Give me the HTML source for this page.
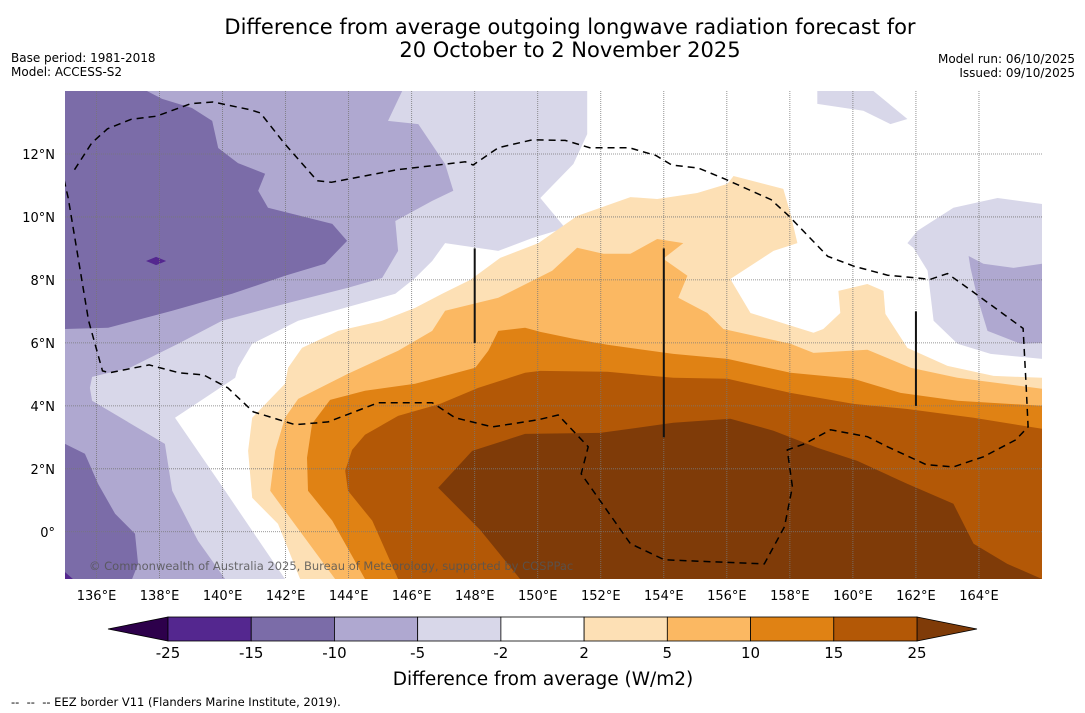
<!DOCTYPE html>
<html><head><meta charset="utf-8">
<style>
body{margin:0;background:#fff;width:1085px;height:713px;overflow:hidden;font-family:"Liberation Sans","DejaVu Sans",sans-serif}
svg{position:absolute;left:0;top:0}
</style></head>
<body>
<svg id="chart" width="1085" height="713" viewBox="0 0 1085 713">
<text x="570" y="34" text-anchor="middle" font-size="21" font-family="DejaVu Sans, sans-serif">Difference from average outgoing longwave radiation forecast for</text>
<text x="570" y="57" text-anchor="middle" font-size="21" font-family="DejaVu Sans, sans-serif">20 October to 2 November 2025</text>
<text x="11" y="62" font-size="12" font-family="DejaVu Sans, sans-serif">Base period: 1981-2018</text>
<text x="11" y="76" font-size="12" font-family="DejaVu Sans, sans-serif">Model: ACCESS-S2</text>
<text x="1075" y="63" text-anchor="end" font-size="12" font-family="DejaVu Sans, sans-serif">Model run: 06/10/2025</text>
<text x="1075" y="77" text-anchor="end" font-size="12" font-family="DejaVu Sans, sans-serif">Issued: 09/10/2025</text>
<defs><clipPath id="mapclip"><rect x="65" y="91" width="977" height="488"/></clipPath></defs>
<g id="map" clip-path="url(#mapclip)"></g>
<g id="axes"></g>
<g id="cbar"></g>
<text x="543" y="685" text-anchor="middle" font-size="18.5" font-family="DejaVu Sans, sans-serif">Difference from average (W/m2)</text>
<text x="11" y="706" font-size="11.5" font-family="DejaVu Sans, sans-serif" xml:space="preserve" style="white-space:pre">--  --  -- EEZ border V11 (Flanders Marine Institute, 2019).</text>
</svg>
<script>
// ---- data ----
const levels=[-25,-15,-10,-5,-2,2,5,10,15,25];
const levelColors=["#54278f","#7b6ca8","#afa8d0","#d8d7e9","#ffffff","#fde0b5","#fbb862","#e08214","#b35806"];
const underColor="#2d004b", overColor="#7f3b08";
const lonTicks=[136,138,140,142,144,146,148,150,152,154,156,158,160,162,164];
const latTicks=[0,2,4,6,8,10,12];
const regionLight1=[[135,14],[151.57,14],[151.57,12.63],[151.13,11.68],[150.08,10.6],[150.87,9.65],[149.83,9.33],[148.75,8.92],[147.06,9.17],[146.65,8.6],[146.11,8.06],[145.48,7.56],[142.4,6.7],[140.94,5.97],[140.49,5.21],[140.4,4.89],[138.49,3.62],[140.08,1.3],[140.94,0.03],[141.98,-1.5],[135,-1.5]];
const regionLight2=[[161.73,9.17],[162.05,9.56],[163.19,10.29],[164.59,10.6],[166,10.41],[166,5.49],[164.37,5.65],[163.32,5.97],[162.56,6.7],[162.37,8.29],[161.92,9.02]];
const regionLight3=[[158.87,14],[160.65,14],[161.73,13.11],[161.19,12.95],[160.33,13.37],[158.87,13.59]];
const regionMid1=[[135,14],[145.7,14],[145.25,13.05],[146.21,12.95],[147.06,11.68],[147.32,10.83],[146.65,10.51],[145.48,9.87],[145.57,8.92],[145.06,8.06],[143.98,7.75],[141.98,7.24],[139.98,6.7],[138.59,5.97],[137.06,5.21],[135.86,4.92],[135.79,4.57],[135.86,4.16],[138.17,2.79],[138.4,1.3],[139.22,-0.29],[140.08,-1.5],[135,-1.5]];
const regionMid2=[[163.67,8.76],[164.14,8.51],[165.1,8.38],[166,8.51],[166,6],[165.32,5.97],[164.27,6.38],[163.95,7.43],[163.73,8.38]];
const regionDark1=[[135,14],[137.6,14],[138.08,13.75],[139.03,13.46],[139.67,13.05],[139.86,12.19],[140.49,11.71],[141.35,11.37],[141.13,10.83],[141.44,10.29],[143.48,9.78],[143.95,9.24],[143.25,8.51],[141.98,8.13],[140.3,7.56],[138.4,7.02],[136.37,6.48],[135,6.44]];
const regionDark2=[[135,2.79],[135.63,2.48],[136.05,1.52],[136.59,0.57],[137.22,-0.06],[137.32,-1.02],[137.13,-1.5],[135,-1.5]];
const regionDeep1=[[137.57,8.6],[137.89,8.73],[138.21,8.6],[137.89,8.47]];
const regionDeep2=[[135,-1.5],[135.25,-1.5],[135,-1.28]];
const regionO1=[[142.46,-1.5],[141.76,0.25],[140.94,1.08],[140.81,2.57],[140.94,3.62],[141.98,4.7],[142.08,5.21],[142.52,5.84],[143.67,6.38],[145.06,6.7],[146.11,7.11],[146.97,7.56],[147.86,8],[148.81,8.7],[150.02,9.17],[151.25,10.03],[152.94,10.63],[153.79,10.57],[155.06,10.76],[156.02,11.05],[156.21,11.3],[157.79,10.89],[158.02,10.1],[158.24,9.17],[157.48,8.92],[156.11,8.03],[156.75,6.95],[158.75,6.32],[159.06,6.44],[159.6,6.95],[159.54,7.65],[160.46,7.87],[160.97,7.65],[161.03,6.92],[161.73,5.84],[163,5.27],[164.46,4.95],[166,4.89],[166,-1.5]];
const regionO2=[[143.57,-1.5],[142.21,0.35],[141.51,1.3],[141.67,2.57],[141.98,3.62],[142.4,4.22],[143.98,5.02],[145.57,5.75],[146.65,6.38],[147.06,7.02],[148.75,7.43],[150.46,8.29],[151.25,9.02],[152.08,8.83],[152.94,8.83],[153.79,9.3],[154.62,9.17],[153.98,8.67],[154.75,8.13],[154.46,7.43],[155.38,6.95],[155.89,6.44],[158.02,5.97],[158.75,5.68],[160.46,5.78],[161.83,5.21],[163.32,4.89],[166,4.54],[166,-1.5]];
const regionO3=[[144.52,-1.5],[143.48,0.35],[142.71,1.3],[142.68,2.35],[142.84,3.43],[143.41,4.19],[144.52,4.48],[146.11,4.7],[148.02,5.21],[148.43,5.75],[148.75,6.38],[149.6,6.48],[150.08,6.35],[151.13,6.13],[152.21,5.94],[154.3,5.65],[156.02,5.49],[158.02,5.05],[160.02,4.86],[161.51,4.41],[163.32,4.16],[166,4],[166,-1.5]];
const regionO4=[[145.57,-1.5],[144.75,0.35],[143.98,1.3],[143.89,1.94],[144.11,2.6],[144.52,3.08],[145.57,3.68],[146.9,4.06],[148.11,4.57],[149.6,5.05],[150.08,5.11],[152.21,5.08],[154.3,4.89],[156.02,4.86],[158.02,4.41],[160.02,4.06],[161.73,3.9],[163.83,3.62],[166,3.27],[166,-1.5]];
const regionO5=[[149.44,-1.5],[148.17,0.06],[146.84,1.4],[147.92,2.57],[149.6,3.11],[151.98,3.14],[154.3,3.46],[156.11,3.59],[157.48,3.21],[158.87,2.67],[160.14,2.25],[161.73,1.52],[163.19,0.89],[163.83,-0.38],[164.9,-1.02],[166,-1.5]];
const regions=[[3,regionLight1],[3,regionLight2],[3,regionLight3],[2,regionMid1],[2,regionMid2],[1,regionDark1],[1,regionDark2],[0,regionDeep1],[0,regionDeep2],[5,regionO1],[6,regionO2],[7,regionO3],[8,regionO4],[9,regionO5]];
const eez=[[135.3,11.5],[135.85,12.35],[136.35,12.8],[137.1,13.1],[137.9,13.2],[139,13.6],[139.7,13.65],[140.9,13.4],[141.2,13.3],[141.95,12.35],[143,11.15],[143.45,11.1],[145.55,11.5],[147.7,11.75],[147.95,11.65],[148.75,12.2],[149.83,12.45],[150.87,12.43],[151.65,12.2],[152.9,12.2],[153.75,11.95],[154.25,11.65],[155.1,11.55],[155.95,11.2],[157.4,10.55],[157.95,10.05],[159.2,8.75],[160.05,8.43],[161.1,8.15],[162.46,8.02],[163,8.2],[163.7,7.7],[165.4,6.46],[165.5,4.6],[165.56,3.33],[165.17,2.92],[164.14,2.38],[163.19,2.06],[162.33,2.13],[161.1,2.7],[160.46,3.02],[159.29,3.24],[158.46,2.79],[157.92,2.6],[158.08,1.43],[157.83,0.16],[157.19,-1.02],[154.02,-0.89],[152.94,-0.38],[151.38,1.84],[151.6,2.7],[150.65,3.71],[150.02,3.56],[148.56,3.33],[147.38,3.62],[146.65,4.1],[144.94,4.1],[143.35,3.49],[142.3,3.4],[140.97,3.81],[140.17,4.57],[139.4,4.98],[138.62,5.05],[137.67,5.3],[136.41,5.05],[136.19,5.11],[135.75,6.7],[135.1,10.6],[134.9,11.5]];
const blackLines=[[148,9],[148,6],[154,9],[154,3],[162,7],[162,4]];

const X0=65,X1=1042,Y0=91,Y1=579,LON0=135,LON1=166,LAT0=-1.5,LAT1=14;
const xs=lon=>X0+(lon-LON0)/(LON1-LON0)*(X1-X0);
const ys=lat=>Y1-(lat-LAT0)/(LAT1-LAT0)*(Y1-Y0);
const NS="http://www.w3.org/2000/svg";
function mk(tag,attrs,parent){const e=document.createElementNS(NS,tag);for(const k in attrs)e.setAttribute(k,attrs[k]);parent.appendChild(e);return e;}
const map=document.getElementById('map'), axes=document.getElementById('axes'), cbar=document.getElementById('cbar');
const allColors=levelColors.concat([overColor]);
mk('rect',{x:X0,y:Y0,width:X1-X0,height:Y1-Y0,fill:'#fff'},map);
regions.forEach(([ci,pts],i)=>{
  const p=mk('polygon',{points:pts.map(([a,b])=>xs(a).toFixed(1)+','+ys(b).toFixed(1)).join(' '),fill:allColors[ci]},map);
  
  
});
lonTicks.forEach(l=>{const g=mk('line',{x1:xs(l),x2:xs(l),y1:Y0,y2:Y1,stroke:'#777','stroke-width':0.8,'stroke-dasharray':'1,1'},map);
  
  });
latTicks.forEach(l=>{const g=mk('line',{x1:X0,x2:X1,y1:ys(l),y2:ys(l),stroke:'#777','stroke-width':0.8,'stroke-dasharray':'1,1'},map);
  
  });
const ez=mk('polyline',{points:eez.map(([a,b])=>xs(a).toFixed(1)+','+ys(b).toFixed(1)).join(' '),fill:'none',stroke:'#000','stroke-width':1.5,'stroke-dasharray':'7,5'},map);


for(let i=0;i<blackLines.length;i+=2){const l=mk('line',{x1:xs(blackLines[i][0]),y1:ys(blackLines[i][1]),x2:xs(blackLines[i+1][0]),y2:ys(blackLines[i+1][1]),stroke:'#111','stroke-width':2},map);
  
  }
const cp=mk('text',{x:89,y:570,'font-size':11.5,fill:'#555','fill-opacity':0.85,'font-family':'DejaVu Sans, sans-serif'},map);
cp.textContent='© Commonwealth of Australia 2025, Bureau of Meteorology, supported by COSPPac';


lonTicks.forEach(l=>{const t=mk('text',{x:xs(l),y:600,'text-anchor':'middle','font-size':13,'font-family':'DejaVu Sans, sans-serif'},axes);t.textContent=l+'°E';
  
  });
latTicks.forEach(l=>{const t=mk('text',{x:55,y:ys(l)+5,'text-anchor':'end','font-size':13,'font-family':'DejaVu Sans, sans-serif'},axes);t.textContent=l===0?'0°':l+'°N';
  
  });
const CB0=168,CB1=917,CBY=617,CBH=24,seg=(CB1-CB0)/(levels.length-1);
const cx=i=>CB0+i*seg;
const tl=mk('polygon',{points:`${CB0},${CBY} ${CB0},${CBY+CBH} 108,${CBY+CBH/2}`,fill:underColor,stroke:'#000','stroke-width':0.8},cbar);


const tr=mk('polygon',{points:`${CB1},${CBY} ${CB1},${CBY+CBH} 977,${CBY+CBH/2}`,fill:overColor,stroke:'#000','stroke-width':0.8},cbar);


levelColors.forEach((c,i)=>{const r=mk('rect',{x:cx(i),y:CBY,width:seg,height:CBH,fill:c,stroke:'#000','stroke-width':0.8},cbar);
  
  });
levels.forEach((v,i)=>{const t=mk('text',{x:cx(i),y:658,'text-anchor':'middle','font-size':15,'font-family':'DejaVu Sans, sans-serif'},cbar);t.textContent=v;
  
  });
</script>
</body></html>
